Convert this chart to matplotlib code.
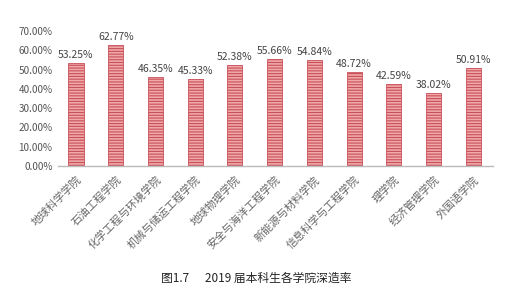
import matplotlib.pyplot as plt
import matplotlib as mpl

plt.rcParams['font.family'] = ['Noto Sans CJK SC', 'DejaVu Sans']
mpl.rcParams['hatch.linewidth'] = 0.8

colleges = ['地球科学学院', '石油工程学院', '化学工程与环境学院', '机械与储运工程学院',
            '地球物理学院', '安全与海洋工程学院', '新能源与材料学院', '信息科学与工程学院',
            '理学院', '经济管理学院', '外国语学院']
rates = [53.25, 62.77, 46.35, 45.33, 52.38, 55.66, 54.84, 48.72, 42.59, 38.02, 50.91]
yticks = [0, 10, 20, 30, 40, 50, 60, 70]

fig = plt.figure(figsize=(5.28, 2.88), dpi=100)
ax = fig.add_axes([0.11, 0.424, 0.824, 0.468])

x = list(range(len(colleges)))
bars = ax.bar(x, rates, width=0.38, color='#f0a8a8', edgecolor='#c8505a',
              hatch='------', linewidth=0.6)

for xi, v in zip(x, rates):
    ax.text(xi, v + 1.5, '%.2f%%' % v, ha='center', va='bottom',
            fontsize=7.5, color='#444444')

ax.set_xlim(-0.45, len(colleges) - 0.5)
ax.set_ylim(0, 70)
ax.set_yticks(yticks)
ax.set_yticklabels(['%.2f%%' % t for t in yticks], fontsize=7.2, color='#555555')
ax.set_xticks(x)
ax.set_xticklabels(colleges, rotation=45, ha='right', rotation_mode='anchor',
                   fontsize=7.8, color='#666666')
ax.tick_params(axis='x', length=0, pad=6)
ax.tick_params(axis='y', length=0, pad=4)

for s in ['top', 'right', 'left']:
    ax.spines[s].set_visible(False)
ax.spines['bottom'].set_color('#bbbbbb')
ax.spines['bottom'].set_linewidth(1)

fig.text(0.485, 0.035, '图1.7      2019 届本科生各学院深造率', ha='center', va='center',
         fontsize=8.5, color='#222222')

fig.savefig('out.png', dpi=100)
